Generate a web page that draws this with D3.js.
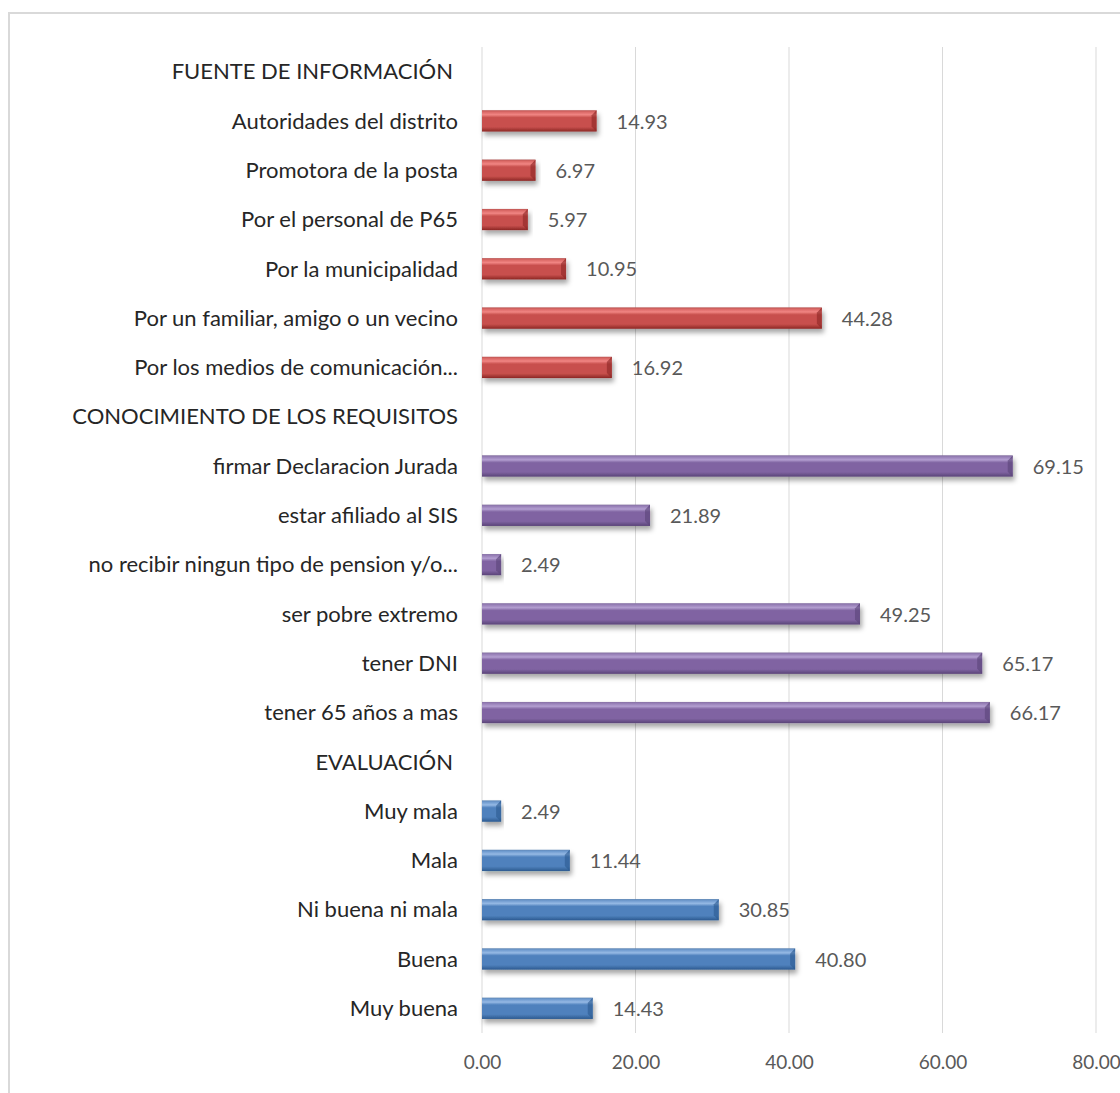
<!DOCTYPE html>
<html>
<head>
<meta charset="utf-8">
<script src="https://cdn.jsdelivr.net/npm/d3@7"></script>
<style>
  html, body { margin: 0; padding: 0; background: #fff; }
  svg { display: block; }
  .cat { font-family: Lato, "Liberation Sans", sans-serif; font-size: 22px; fill: #262626; }
  .val { font-family: Lato, "Liberation Sans", sans-serif; font-size: 20px; fill: #595959; }
  .tick text { font-family: Lato, "Liberation Sans", sans-serif; font-size: 19px; fill: #595959; }
</style>
</head>
<body>
<script>
// Survey groups: heading rows followed by their items (percentages)
const groupTitles = ["FUENTE DE INFORMACIÓN", "CONOCIMIENTO DE LOS REQUISITOS", "EVALUACIÓN"];

const fuenteLabels = [
  "Autoridades del distrito",
  "Promotora de la posta",
  "Por el personal de P65",
  "Por la municipalidad",
  "Por un familiar, amigo o un vecino",
  "Por los medios de comunicación..."
];
const fuenteValues = [14.93, 6.97, 5.97, 10.95, 44.28, 16.92];

const requisitosLabels = [
  "firmar Declaracion Jurada",
  "estar afiliado al SIS",
  "no recibir ningun tipo de pension y/o...",
  "ser pobre extremo",
  "tener DNI",
  "tener 65 años a mas"
];
const requisitosValues = [69.15, 21.89, 2.49, 49.25, 65.17, 66.17];

const evaluacionLabels = ["Muy mala", "Mala", "Ni buena ni mala", "Buena", "Muy buena"];
const evaluacionValues = [2.49, 11.44, 30.85, 40.80, 14.43];

const xTicks = [0, 20, 40, 60, 80];

const palettes = [
  { light: "#f08482", base: "#c8504d", dark: "#8c2724" },
  { light: "#b29dcf", base: "#8064a2", dark: "#5a4478" },
  { light: "#94b8e4", base: "#4f81bd", dark: "#2c5a90" }
];

// Flatten into rows: heading rows carry no value
const rows = [];
[[fuenteLabels, fuenteValues], [requisitosLabels, requisitosValues], [evaluacionLabels, evaluacionValues]]
  .forEach(([labels, values], g) => {
    rows.push({ key: "h" + g, label: groupTitles[g], value: null, group: g, heading: true });
    labels.forEach((l, i) => rows.push({ key: g + "-" + i, label: l, value: values[i], group: g, heading: false }));
  });

const W = 1120, H = 1093;
const margin = { top: 47, right: 24, bottom: 60, left: 482 };

const svg = d3.select("body").append("svg").attr("width", W).attr("height", H);

// Chart frame
svg.append("rect")
  .attr("x", 9).attr("y", 13).attr("width", W + 20).attr("height", H + 20)
  .attr("fill", "none").attr("stroke", "#d9d9d9").attr("stroke-width", 2);

const x = d3.scaleLinear().domain([0, 80]).range([margin.left, 1096]);
const y = d3.scaleBand().domain(rows.map(d => d.key))
  .range([margin.top, H - margin.bottom]).paddingInner(0.57).paddingOuter(0.285);

const defs = svg.append("defs");
palettes.forEach((p, i) => {
  const g = defs.append("linearGradient").attr("id", "grad" + i)
    .attr("x1", 0).attr("y1", 0).attr("x2", 0).attr("y2", 1);
  [[0, p.dark], [0.08, p.base], [0.2, p.light], [0.34, p.base], [0.78, p.base], [1, p.dark]]
    .forEach(([o, c]) => g.append("stop").attr("offset", o).attr("stop-color", c));
});
const shadow = defs.append("filter").attr("id", "shadow")
  .attr("x", "-5%").attr("y", "-30%").attr("width", "115%").attr("height", "190%");
shadow.append("feDropShadow").attr("dx", 2).attr("dy", 4).attr("stdDeviation", 2.5)
  .attr("flood-color", "#000").attr("flood-opacity", 0.35);

// Vertical gridlines and axis
const gridBottom = H - margin.bottom;
svg.append("g").selectAll("line").data(xTicks).join("line")
  .attr("x1", d => x(d)).attr("x2", d => x(d))
  .attr("y1", margin.top).attr("y2", gridBottom)
  .attr("stroke", "#d9d9d9").attr("stroke-width", 1);

const axis = svg.append("g").attr("transform", `translate(0,${gridBottom})`)
  .call(d3.axisBottom(x).tickValues(xTicks).tickFormat(d3.format(".2f")).tickSize(0).tickPadding(23));
axis.select(".domain").remove();

// Category labels
svg.append("g").selectAll("text").data(rows).join("text")
  .attr("class", "cat")
  .attr("x", d => d.heading && d.group !== 1 ? 453 : 458)
  .attr("y", d => y(d.key) + y.bandwidth() / 2)
  .attr("dy", "0.35em")
  .attr("text-anchor", "end")
  .text(d => d.label);

// Bars with bevelled look
const bars = rows.filter(d => !d.heading);
const bh = y.bandwidth();
const barG = svg.append("g").selectAll("g").data(bars).join("g");
barG.append("rect")
  .attr("x", x(0)).attr("y", d => y(d.key))
  .attr("width", d => x(d.value) - x(0)).attr("height", bh)
  .attr("fill", d => `url(#grad${d.group})`)
  .attr("filter", "url(#shadow)");
// Right-end bevel facet
barG.append("path")
  .attr("d", d => {
    const x1 = x(d.value), y0 = y(d.key), b = Math.min(5, (x(d.value) - x(0)) / 2);
    return `M${x1},${y0} L${x1 - b},${y0 + b} L${x1 - b},${y0 + bh - b} L${x1},${y0 + bh} Z`;
  })
  .attr("fill", d => palettes[d.group].dark).attr("opacity", 0.6);
// Top highlight facet
barG.append("path")
  .attr("d", d => {
    const x0 = x(0), x1 = x(d.value), y0 = y(d.key), b = Math.min(5, (x1 - x0) / 2);
    return `M${x0},${y0} L${x1},${y0} L${x1 - b},${y0 + b} L${x0},${y0 + b} Z`;
  })
  .attr("fill", d => palettes[d.group].light).attr("opacity", 0.5);

// Value labels
svg.append("g").selectAll("text").data(bars).join("text")
  .attr("class", "val")
  .attr("x", d => x(d.value) + 20)
  .attr("y", d => y(d.key) + bh / 2)
  .attr("dy", "0.38em")
  .text(d => d3.format(".2f")(d.value));
</script>
</body>
</html>
